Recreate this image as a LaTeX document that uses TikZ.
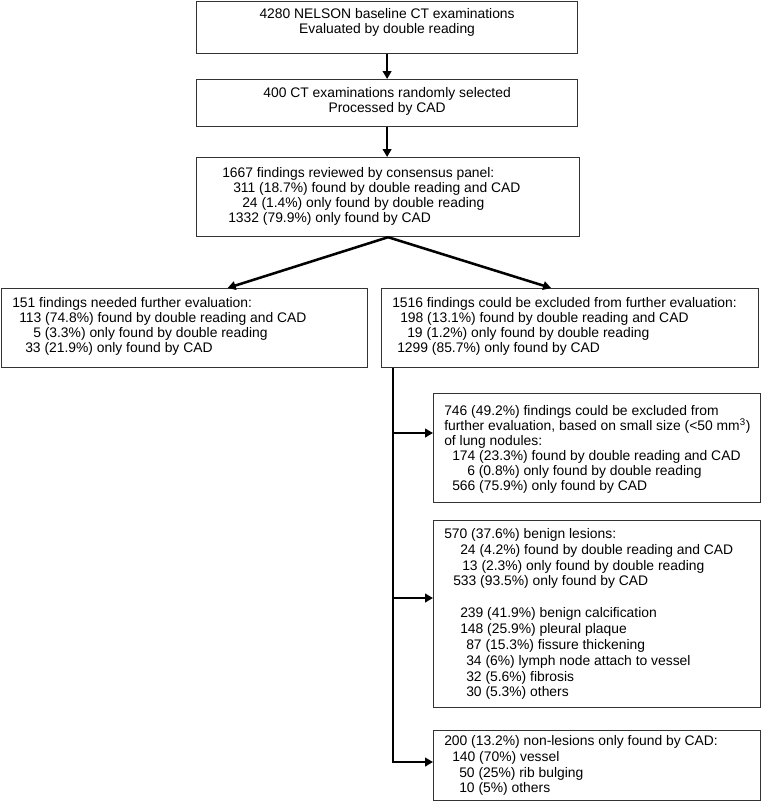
\documentclass[tikz,border=0pt]{standalone}
\usepackage{fontspec}
\setmainfont{Liberation Sans}
\usetikzlibrary{arrows.meta}

\newdimen\pxu
\pxu=0.75pt
\newcommand{\ind}[1]{\hspace*{#1\pxu}}
\newcommand{\tight}{\lineskiplimit=-100pt\relax}

\begin{document}
\begin{tikzpicture}[x=0.75pt, y=-0.75pt,
    box/.style={draw=black!80, line width=0.9pt, anchor=north west, inner sep=0pt},
    flow/.style={line width=1.9pt, -{Triangle[length=6pt,width=6.5pt]}},
    txt/.style={anchor=north west, inner sep=0pt, align=left,
      font=\fontsize{10.4}{11.25}\selectfont\tight},
    wider/.style={font=\fontsize{10.4}{11.9}\selectfont\tight}
  ]
    \useasboundingbox (0,0) rectangle (761,801);

    % boxes
    \node[box, minimum width=0.75*381pt, minimum height=0.75*52pt] (b1) at (196,1) {};
    \node[box, minimum width=0.75*381pt, minimum height=0.75*47pt] (b2) at (196,79) {};
    \node[box, minimum width=0.75*383pt, minimum height=0.75*79pt] (b3) at (196,157) {};
    \node[box, minimum width=0.75*366pt, minimum height=0.75*79pt] (b4) at (1,288) {};
    \node[box, minimum width=0.75*377pt, minimum height=0.75*79pt] (b5) at (381,288) {};
    \node[box, minimum width=0.75*327pt, minimum height=0.75*109pt] (b6) at (433,393) {};
    \node[box, minimum width=0.75*327pt, minimum height=0.75*187pt] (b7) at (433,520) {};
    \node[box, minimum width=0.75*327pt, minimum height=0.75*70pt] (b8) at (433,730) {};

    % texts
    \node[txt, anchor=north, align=center] (l1) at ([shift={(0,7)}]b1.north)
        {4280 NELSON baseline CT examinations\\Evaluated by double reading};
    \node[txt, anchor=north, align=center] (l2) at ([shift={(0,8)}]b2.north)
        {400 CT examinations randomly selected\\Processed by CAD};
    \node[txt] (l3) at ([shift={(26,10)}]b3.north west)
        {1667 findings reviewed by consensus panel:\\
         \ind{11}311 (18.7\%) found by double reading and CAD\\
         \ind{20}24 (1.4\%) only found by double reading\\
         \ind{6}1332 (79.9\%) only found by CAD};
    \node[txt] (l4) at ([shift={(11,9)}]b4.north west)
        {151 findings needed further evaluation:\\
         \ind{7}113 (74.8\%) found by double reading and CAD\\
         \ind{21}5 (3.3\%) only found by double reading\\
         \ind{13}33 (21.9\%) only found by CAD};
    \node[txt] (l5) at ([shift={(11,9)}]b5.north west)
        {1516 findings could be excluded from further evaluation:\\
         \ind{8}198 (13.1\%) found by double reading and CAD\\
         \ind{15}19 (1.2\%) only found by double reading\\
         \ind{5}1299 (85.7\%) only found by CAD};
    \node[txt] (l6) at ([shift={(11,12)}]b6.north west)
        {746 (49.2\%) findings could be excluded from\\
         further evaluation, based on small size (<50 mm\textsuperscript{3})\\
         of lung nodules:\\
         \ind{8}174 (23.3\%) found by double reading and CAD\\
         \ind{23}6 (0.8\%) only found by double reading\\
         \ind{8}566 (75.9\%) only found by CAD};
    \node[txt, wider] (l7) at ([shift={(11,8)}]b7.north west)
        {570 (37.6\%) benign lesions:\\
         \ind{16}24 (4.2\%) found by double reading and CAD\\
         \ind{18}13 (2.3\%) only found by double reading\\
         \ind{9}533 (93.5\%) only found by CAD\\[11.9pt]
         \ind{16}239 (41.9\%) benign calcification\\
         \ind{16}148 (25.9\%) pleural plaque\\
         \ind{22}87 (15.3\%) fissure thickening\\
         \ind{22}34 (6\%) lymph node attach to vessel\\
         \ind{22}32 (5.6\%) fibrosis\\
         \ind{22}30 (5.3\%) others};
    \node[txt, wider] (l8) at ([shift={(11,5)}]b8.north west)
        {200 (13.2\%) non-lesions only found by CAD:\\
         \ind{8}140 (70\%) vessel\\
         \ind{15}50 (25\%) rib bulging\\
         \ind{15}10 (5\%) others};

    % arrows
    \draw[flow] (b1.south) -- (b2.north);
    \draw[flow] (b2.south) -- (b2.south |- b3.north);
    \draw[flow] (b3.south) -- ([shift={(43,0)}]b4.north);
    \draw[flow] (b3.south) -- ([shift={(-19,0)}]b5.north);

    \coordinate (t6) at (393,433);
    \coordinate (t7) at (393,598);
    \coordinate (t8) at (393,762);
    \draw[flow] (b5.south -| t8) -- (t8) -- (t8 -| b8.west);
    \draw[flow] (t6) -- (t6 -| b6.west);
    \draw[flow] (t7) -- (t7 -| b7.west);
\end{tikzpicture}
\end{document}
